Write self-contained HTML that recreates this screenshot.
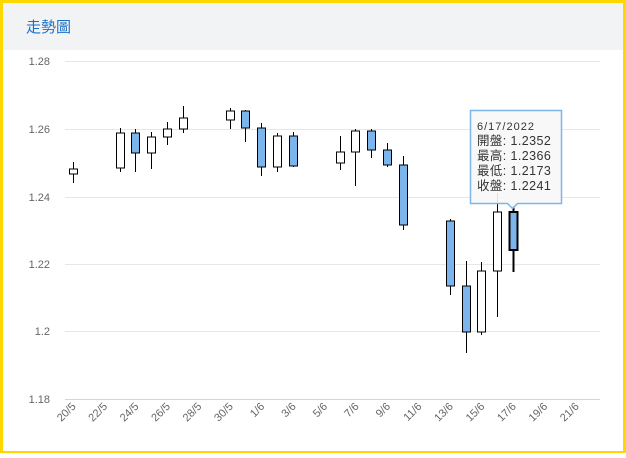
<!DOCTYPE html>
<html><head><meta charset="utf-8"><style>
html,body{margin:0;padding:0;}
body{width:626px;height:453px;overflow:hidden;background:#fff;}
</style></head><body>
<svg width="626" height="453" xmlns="http://www.w3.org/2000/svg" font-family="Liberation Sans, Noto Sans CJK TC, sans-serif">
<rect x="0" y="0" width="626" height="453" fill="#ffd700"/>
<rect x="3" y="3" width="620" height="448" fill="#fff"/>
<rect x="3" y="3" width="620" height="47" fill="#f2f3f5"/>
<text x="26" y="32" font-size="15" fill="#1a6fc9" font-family="Noto Sans CJK TC, sans-serif">走勢圖</text>
<g stroke="#e6e6e6" stroke-width="1">
<line x1="65" x2="600" y1="61.5" y2="61.5"/>
<line x1="65" x2="600" y1="129.5" y2="129.5"/>
<line x1="65" x2="600" y1="197.5" y2="197.5"/>
<line x1="65" x2="600" y1="264.5" y2="264.5"/>
<line x1="65" x2="600" y1="331.5" y2="331.5"/>
</g>
<line x1="65" x2="600" y1="399.5" y2="399.5" stroke="#ccd6eb"/>
<g font-size="11" fill="#666" text-anchor="end">
<text x="50" y="65">1.28</text>
<text x="50" y="133">1.26</text>
<text x="50" y="201">1.24</text>
<text x="50" y="268">1.22</text>
<text x="50" y="335">1.2</text>
<text x="50" y="403">1.18</text>
</g>
<g font-size="11" fill="#666" text-anchor="end" id="xl"></g>
<g id="c"></g>
<g>
<path d="M470.5,110.5 h91 v93 h-44 l-5,5 l-5,-5 h-37 z" fill="rgba(247,247,247,0.9)" stroke="#7cb5ec" stroke-width="1.5"/>
<g font-size="12.5" fill="#333" letter-spacing="0.4">
<text x="477" y="130" font-size="11" letter-spacing="1">6/17/2022</text>
<text x="477" y="145">開盤: 1.2352</text>
<text x="477" y="160">最高: 1.2366</text>
<text x="477" y="175">最低: 1.2173</text>
<text x="477" y="190">收盤: 1.2241</text>
</g>
</g>
</svg>
<script>
var ns="http://www.w3.org/2000/svg";
function X(d){return 72.5+15.72*d;}
var xl=document.getElementById('xl');
var labs=["20/5","22/5","24/5","26/5","28/5","30/5","1/6","3/6","5/6","7/6","9/6","11/6","13/6","15/6","17/6","19/6","21/6"];
labs.forEach(function(l,i){var t=document.createElementNS(ns,'text');var x=X(i*2)+4,y=407;t.setAttribute('x',x);t.setAttribute('y',y);t.setAttribute('transform','rotate(-45 '+x+' '+y+')');t.textContent=l;xl.appendChild(t);});
var C=[[0,1,169,174,162,183],[3,1,133,168,128,172],[4,0,133,153,129,172],[5,1,137,153,132,169],[6,1,129,137,122,145],[7,1,118,129,106,133],
[10,1,111,120,108,129],[11,0,111,128,110,142],[12,0,128,167,123,176],[13,1,136,167,133,172],[14,0,136,166,132,167],
[17,1,152,163,136,170],[18,1,131,152,129,186],[19,0,131,150,129,158],[20,0,150,165,143,167],[21,0,165,225,156,230],
[24,0,221,286,219,295],[25,0,286,332,261,353],[26,1,271,332,262,335],[27,1,212,271,193,317],[28,0,212,250,206,272]];
var g=document.getElementById('c');
C.forEach(function(c){var x=Math.round(X(c[0]))+0.5;var sw=c[0]==28?2:1;
var l=document.createElementNS(ns,'line');l.setAttribute('x1',x);l.setAttribute('x2',x);l.setAttribute('y1',c[4]);l.setAttribute('y2',c[5]);l.setAttribute('stroke','#000');l.setAttribute('stroke-width',sw);g.appendChild(l);
var r=document.createElementNS(ns,'rect');r.setAttribute('x',x-4);r.setAttribute('y',c[2]);r.setAttribute('width',8);r.setAttribute('height',c[3]-c[2]);r.setAttribute('fill',c[1]?'#fff':'#7cb5ec');r.setAttribute('stroke','#000');r.setAttribute('stroke-width',sw);g.appendChild(r);});
</script>
</body></html>
